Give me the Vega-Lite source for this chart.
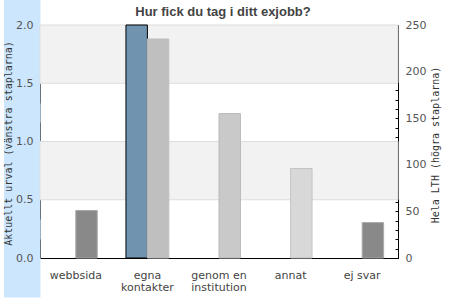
{
  "$schema": "https://vega.github.io/schema/vega-lite/v6.json",
  "width": 358,
  "height": 233,
  "autosize": {"type": "none"},
  "padding": {"left": 40, "top": 25, "right": 52, "bottom": 42},
  "background": "white",
  "title": {
    "text": "Hur fick du tag i ditt exjobb?",
    "font": "Liberation Sans",
    "fontSize": 13,
    "fontWeight": "bold",
    "color": "#444444",
    "anchor": "middle",
    "baseline": "alphabetic",
    "offset": -43,
    "dx": 4
  },
  "config": {
    "view": {"stroke": "#000000", "strokeWidth": 1},
    "axis": {
      "labelFont": "DejaVu Sans",
      "labelFontSize": 11,
      "labelColor": "#555555",
      "titleFont": "DejaVu Sans Mono",
      "titleFontSize": 10,
      "titleFontWeight": "normal",
      "titleColor": "#333333"
    }
  },
  "datasets": {
    "svar": [
      {"svar": "webbsida", "urval": null, "lth": 51},
      {"svar": "egna kontakter", "urval": 2.0, "lth": 235},
      {"svar": "genom en institution", "urval": null, "lth": 155},
      {"svar": "annat", "urval": null, "lth": 96},
      {"svar": "ej svar", "urval": null, "lth": 38}
    ],
    "band": [
      {"fran": 0.5, "till": 1.0},
      {"fran": 1.5, "till": 2.0}
    ]
  },
  "layer": [
    {
      "layer": [
        {
          "data": {"name": "band"},
          "mark": {"type": "rect", "fill": "#f2f2f2", "stroke": "#dddddd", "strokeWidth": 1},
          "encoding": {
            "y": {
              "field": "fran",
              "type": "quantitative",
              "scale": {"domain": [0, 2]},
              "axis": {
                "title": "Aktuellt urval (vänstra staplarna)",
                "values": [0, 0.5, 1, 1.5, 2],
                "format": ".1f",
                "grid": false,
                "domain": false,
                "ticks": true,
                "tickSize": 36.5,
                "tickWidth": 78,
                "tickColor": "#cce7fd",
                "labelPadding": -29.5,
                "labelAlign": "right",
                "labelBaseline": "middle",
                "titleAngle": 270,
                "titleX": -31.5,
                "titleY": 118,
                "titleAlign": "center",
                "titleBaseline": "middle"
              }
            },
            "y2": {"field": "till"}
          }
        },
        {
          "data": {"name": "svar"},
          "mark": {"type": "bar", "fill": "#7094b0", "stroke": "#000000", "strokeWidth": 1},
          "encoding": {
            "x": {
              "field": "svar",
              "type": "nominal",
              "sort": ["webbsida", "egna kontakter", "genom en institution", "annat", "ej svar"],
              "scale": {"paddingInner": 0, "paddingOuter": 0},
              "axis": {
                "title": null,
                "labelAngle": 0,
                "ticks": false,
                "domain": true,
                "domainColor": "#000000",
                "labelPadding": 11,
                "labelBaseline": "top",
                "labelLineHeight": 12.5,
                "labelColor": "#444444",
                "labelExpr": "datum.label == 'egna kontakter' ? ['egna', 'kontakter'] : datum.label == 'genom en institution' ? ['genom en', 'institution'] : datum.label"
              }
            },
            "xOffset": {
              "datum": "Aktuellt urval",
              "scale": {"domain": ["Aktuellt urval", "Hela LTH"], "paddingInner": 0, "paddingOuter": 0.67}
            },
            "y": {"field": "urval", "type": "quantitative", "title": "Aktuellt urval (vänstra staplarna)"}
          }
        }
      ]
    },
    {
      "data": {"name": "svar"},
      "mark": {"type": "bar", "strokeWidth": 1},
      "encoding": {
        "x": {"field": "svar", "type": "nominal", "sort": ["webbsida", "egna kontakter", "genom en institution", "annat", "ej svar"]},
        "xOffset": {"datum": "Hela LTH"},
        "y": {
          "field": "lth",
          "type": "quantitative",
          "scale": {"domain": [0, 250]},
          "axis": {
            "orient": "right",
            "offset": -3,
            "title": "Hela LTH (högra staplarna)",
            "tickCount": 25,
            "labelExpr": "datum.value % 50 === 0 ? datum.label : ''",
            "labelOverlap": false,
            "grid": false,
            "domain": false,
            "tickSize": 3,
            "tickColor": "#000000",
            "labelPadding": 7,
            "labelAlign": "left",
            "labelBaseline": "middle",
            "titleAngle": 270,
            "titleX": 40.5,
            "titleY": 119.5,
            "titleAlign": "center",
            "titleBaseline": "middle"
          }
        },
        "fill": {
          "field": "svar",
          "type": "nominal",
          "sort": null,
          "scale": {"range": ["#898989", "#bfbfbf", "#c9c9c9", "#d8d8d8", "#898989"]},
          "legend": null
        },
        "stroke": {
          "field": "svar",
          "type": "nominal",
          "sort": null,
          "scale": {"range": ["#a9a9a9", "#bfbfbf", "#b9b9b9", "#c4c4c4", "#a9a9a9"]},
          "legend": null
        }
      }
    }
  ],
  "resolve": {"scale": {"y": "independent"}}
}
